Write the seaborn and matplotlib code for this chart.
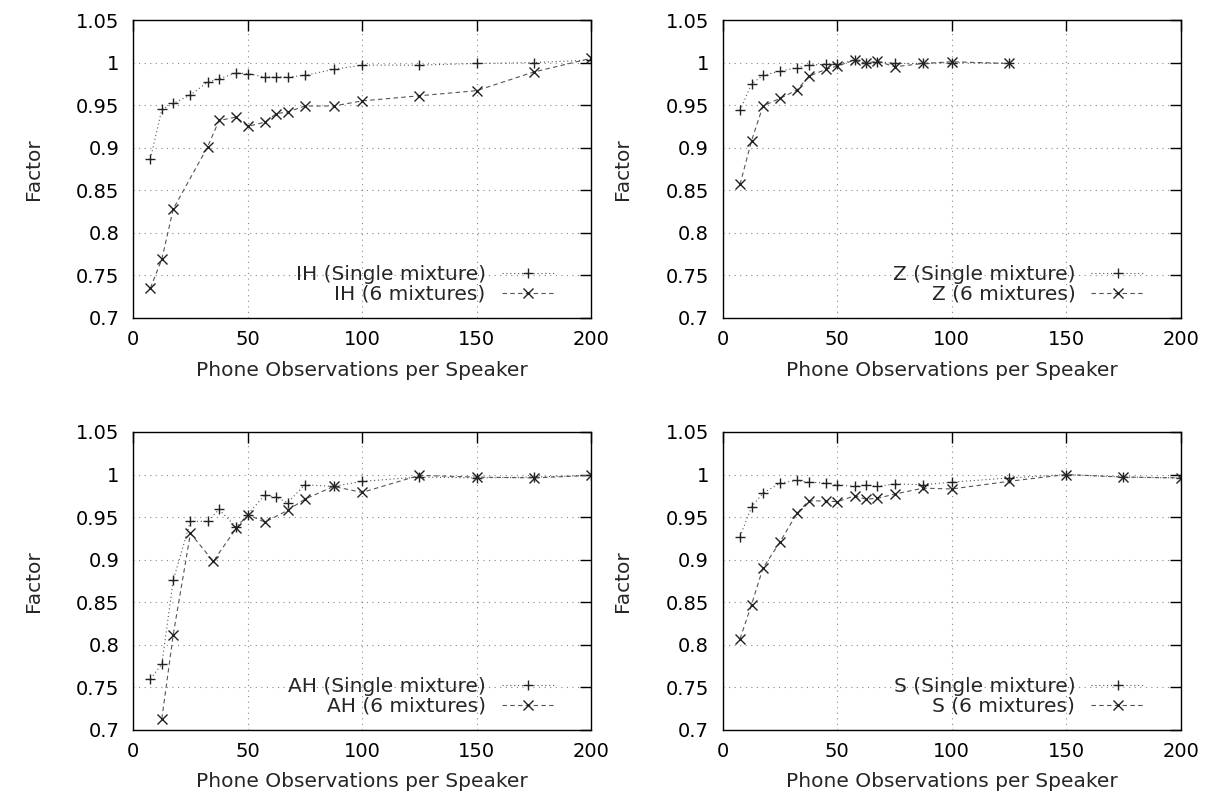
import pandas as pd
import seaborn as sns
import matplotlib.pyplot as plt

# --- data ---
ih_x_single = [7.5, 12.5, 17.5, 25, 32.5, 37.5, 45, 50, 57.5, 62.5, 67.5, 75, 87.5, 100, 125, 150, 175, 200]
ih_single = [0.887, 0.945, 0.952, 0.962, 0.977, 0.981, 0.988, 0.987, 0.983, 0.983, 0.983, 0.985, 0.992, 0.997, 0.997, 0.999, 1.0, 1.003]
ih_x_mix = [7.5, 12.5, 17.5, 32.5, 37.5, 45, 50, 57.5, 62.5, 67.5, 75, 87.5, 100, 125, 150, 175, 200]
ih_mix = [0.735, 0.769, 0.828, 0.901, 0.932, 0.936, 0.925, 0.930, 0.940, 0.942, 0.949, 0.949, 0.955, 0.961, 0.967, 0.989, 1.005]

z_x = [7.5, 12.5, 17.5, 25, 32.5, 37.5, 45, 50, 57.5, 62.5, 67.5, 75, 87.5, 100, 125]
z_single = [0.944, 0.975, 0.985, 0.990, 0.994, 0.997, 0.998, 0.998, 1.003, 0.999, 1.001, 0.999, 0.999, 1.0, 0.999]
z_mix = [0.857, 0.908, 0.949, 0.958, 0.968, 0.984, 0.992, 0.996, 1.003, 0.999, 1.002, 0.995, 0.999, 1.001, 0.999]

ah_x_single = [7.5, 12.5, 17.5, 25, 32.5, 37.5, 45, 50, 57.5, 62.5, 67.5, 75, 87.5, 100, 125, 150, 175, 200]
ah_single = [0.760, 0.777, 0.876, 0.945, 0.945, 0.959, 0.938, 0.953, 0.976, 0.973, 0.967, 0.988, 0.986, 0.992, 0.997, 0.996, 0.997, 0.999]
ah_x_mix = [12.5, 17.5, 25, 35, 45, 50, 57.5, 67.5, 75, 87.5, 100, 125, 150, 175, 200]
ah_mix = [0.713, 0.812, 0.931, 0.898, 0.937, 0.953, 0.944, 0.958, 0.971, 0.986, 0.979, 0.999, 0.997, 0.996, 0.999]

s_x = [7.5, 12.5, 17.5, 25, 32.5, 37.5, 45, 50, 57.5, 62.5, 67.5, 75, 87.5, 100, 125, 150, 175, 200]
s_single = [0.927, 0.962, 0.978, 0.990, 0.993, 0.991, 0.990, 0.988, 0.986, 0.988, 0.986, 0.989, 0.988, 0.991, 0.996, 1.0, 0.997, 0.996]
s_mix = [0.807, 0.847, 0.890, 0.921, 0.955, 0.969, 0.969, 0.968, 0.975, 0.971, 0.972, 0.977, 0.984, 0.983, 0.992, 1.0, 0.997, 0.996]

panels = [
    ("IH", ih_x_single, ih_single, ih_x_mix, ih_mix),
    ("Z", z_x, z_single, z_x, z_mix),
    ("AH", ah_x_single, ah_single, ah_x_mix, ah_mix),
    ("S", s_x, s_single, s_x, s_mix),
]

x_ticks = [0, 50, 100, 150, 200]
y_ticks = [0.7, 0.75, 0.8, 0.85, 0.9, 0.95, 1.0, 1.05]
y_ticklabels = ["0.7", "0.75", "0.8", "0.85", "0.9", "0.95", "1", "1.05"]

sns.set_style("white")
plt.rcParams['font.family'] = ['DejaVu Sans']

fig, axes = plt.subplots(2, 2, figsize=(12.11, 8.02), dpi=100)
plt.subplots_adjust(left=0.110, right=0.975, top=0.975, bottom=0.090, wspace=0.288, hspace=0.383)

line_col = '#555555'
mark_col = '#222222'
for ax, (phone, xs, ys, xm, ym) in zip(axes.flat, panels):
    df_s = pd.DataFrame({'obs': xs, 'factor': ys})
    df_m = pd.DataFrame({'obs': xm, 'factor': ym})
    sns.lineplot(data=df_s, x='obs', y='factor', ax=ax, sort=False, estimator=None,
                 color=line_col, linestyle=(0, (1, 2.5)), linewidth=0.8,
                 marker='+', markersize=7.5, markeredgewidth=1.0, markeredgecolor=mark_col,
                 label=f"{phone} (Single mixture)")
    sns.lineplot(data=df_m, x='obs', y='factor', ax=ax, sort=False, estimator=None,
                 color=line_col, linestyle=(0, (4, 3)), linewidth=0.8,
                 marker='x', markersize=7, markeredgewidth=1.0, markeredgecolor=mark_col,
                 label=f"{phone} (6 mixtures)")

    ax.set_xlim(0, 200)
    ax.set_ylim(0.7, 1.05)
    ax.set_xticks(x_ticks)
    ax.set_yticks(y_ticks)
    ax.set_yticklabels(y_ticklabels)
    ax.tick_params(direction='in', length=8, width=1.0, top=True, right=True,
                   labelsize=14, colors='black', pad=10)
    ax.tick_params(axis='x', pad=9)
    ax.grid(True, linestyle=(0, (1, 4)), color='#888888', linewidth=0.8)
    for sp in ax.spines.values():
        sp.set_color('black')
        sp.set_linewidth(1.0)
    ax.set_xlabel("Phone Observations per Speaker", fontsize=14.5, labelpad=8)
    ax.set_ylabel("Factor", fontsize=14.5, labelpad=24)
    ax.legend(loc='lower right', markerfirst=False, frameon=False, fontsize=14.5,
              handlelength=2.6, labelspacing=0.05, borderaxespad=0.3,
              bbox_to_anchor=(0.95, 0.0))

plt.savefig('out.png', dpi=100)
